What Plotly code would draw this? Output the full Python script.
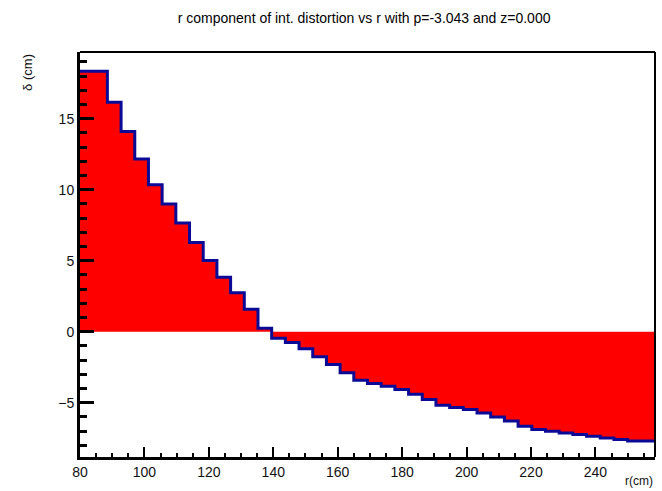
import numpy as np
import plotly.graph_objects as go

# Histogram definition (42 bins between r_low and r_high)
r_low = 80.0
r_high = 258.5
n_bins = 42

# bin contents (delta in cm)
delta_r = [18.35, 18.35, 16.16, 14.11, 12.17, 10.35, 8.99, 7.65, 6.28, 5.01,
           3.84, 2.75, 1.58, 0.24,
           -0.45, -0.75, -1.2, -1.76, -2.3, -2.89, -3.41, -3.64, -3.83, -4.07,
           -4.40, -4.77, -5.17, -5.34, -5.48, -5.72, -6.00, -6.28, -6.65, -6.89,
           -7.01, -7.13, -7.24, -7.36, -7.48, -7.59, -7.69, -7.69]

x_ticks = [80, 100, 120, 140, 160, 180, 200, 220, 240]
y_ticks = [-5, 0, 5, 10, 15]

title_text = "r component of int. distortion vs r with p=-3.043 and z=0.000"
x_title = "r(cm)"
y_title = "δ (cm)"

edges = np.linspace(r_low, r_high, n_bins + 1)
y_step = list(delta_r) + [delta_r[-1]]

FONT = "Liberation Sans, Arial, Helvetica, sans-serif"

fig = go.Figure()
fig.add_trace(go.Scatter(
    x=edges, y=y_step, mode="lines",
    line=dict(shape="hv", color="#0a0a96", width=3),
    fill="tozeroy", fillcolor="#ff0000",
    hoverinfo="skip", showlegend=False,
))

fig.update_layout(
    width=662, height=491,
    margin=dict(l=80, r=7, t=52, b=34),
    paper_bgcolor="white", plot_bgcolor="white",
    font=dict(family=FONT, color="#000000", size=14),
    title=dict(text=title_text, x=0.55, xanchor="center", y=0.963, yanchor="middle",
               font=dict(family=FONT, size=14, color="#000")),
    showlegend=False,
)

fig.update_xaxes(
    range=[r_low, r_high], tickvals=x_ticks, ticktext=[str(v) for v in x_ticks],
    ticks="inside", ticklen=10, tickwidth=2, tickcolor="black",
    minor=dict(ticks="inside", dtick=5, tick0=80, ticklen=4, tickwidth=2, tickcolor="black"),
    showgrid=False, zeroline=False, showline=True, linecolor="black", linewidth=3,
    tickfont=dict(family=FONT, size=14, color="#111"),
)
fig.update_yaxes(
    range=[-8.82, 19.7], tickvals=y_ticks, ticktext=["\u22125", "0", "5", "10", "15"],
    ticks="inside", ticklen=14, tickwidth=3, tickcolor="black",
    minor=dict(ticks="inside", dtick=1, tick0=0, ticklen=7, tickwidth=3, tickcolor="black"),
    showgrid=False, zeroline=False, showline=True, linecolor="black", linewidth=3,
    tickfont=dict(family=FONT, size=14, color="#111"),
)

# frame (top and right)
fig.add_shape(type="line", xref="paper", yref="paper", x0=0, x1=1, y0=1, y1=1,
              line=dict(color="black", width=2))
fig.add_shape(type="line", xref="paper", yref="paper", x0=1, x1=1, y0=0, y1=1,
              line=dict(color="black", width=2))

fig.add_annotation(text=x_title, xref="paper", yref="paper", x=1.0, y=-0.06,
                   xanchor="right", yanchor="middle", showarrow=False,
                   font=dict(family=FONT, size=12, color="#111"))
fig.add_annotation(text=y_title, xref="paper", yref="paper", x=-0.075, y=1.0,
                   xanchor="right", yanchor="top", textangle=-90, showarrow=False,
                   font=dict(family=FONT, size=13, color="#111"))

fig.write_html("out.html")
